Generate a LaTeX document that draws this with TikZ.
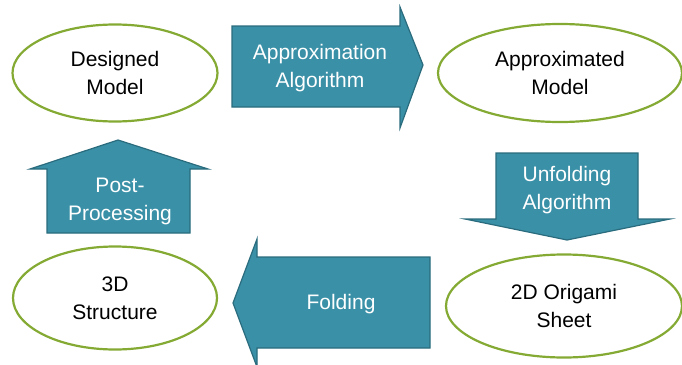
\documentclass[tikz,border=0pt]{standalone}
\usepackage{fontspec}
\setmainfont{Liberation Sans}
\usetikzlibrary{shapes.geometric}
\definecolor{teal1}{RGB}{58,144,167}
\definecolor{teal2}{RGB}{42,108,126}
\definecolor{olive1}{RGB}{132,170,52}
\tikzset{
  oval/.style={ellipse, draw=olive1, line width=2.2pt, fill=white, inner sep=0pt, align=center, font=\fontsize{21}{28}\selectfont},
  arrowshape/.style={fill=teal1, draw=teal2, line width=1.2pt, line join=miter},
  arrowtext/.style={align=center, text=white, font=\fontsize{21}{28}\selectfont}
}
\begin{document}
\begin{tikzpicture}[x=1pt,y=-1pt]
\useasboundingbox (0,0) rectangle (682,364);
\begin{scope}
\clip (0,0) rectangle (682,364);
% ellipses
\node[oval, minimum width=205pt, minimum height=97pt] (dm) at (115,73) {Designed\\Model};
\node[oval, minimum width=244pt, minimum height=98pt] (am) at (560,73) {Approximated\\Model};
\node[oval, minimum width=204pt, minimum height=103pt] (sd) at (115,298) {3D\\Structure};
\node[oval, minimum width=236pt, minimum height=103pt] (os) at (564,306) {2D Origami\\Sheet};
% approximation arrow (right)
\draw[arrowshape] (232,26) -- (400,26) -- (400,7) -- (423,65) -- (400,128) -- (400,107) -- (232,107) -- cycle;
% unfolding arrow (down)
\draw[arrowshape] (496,153) -- (638,153) -- (638,219) -- (670,219) -- (567,240) -- (465,219) -- (496,219) -- cycle;
% folding arrow (left)
\draw[arrowshape] (430,257) -- (430,348) -- (257,348) -- (257,367) -- (233,303) -- (257,239) -- (257,257) -- cycle;
% post-processing arrow (up)
\draw[arrowshape] (47,233) -- (47,169) -- (30,169) -- (118,140) -- (208,169) -- (190,169) -- (190,233) -- cycle;
\end{scope}
\node[arrowtext] (aa) at (320,68) {Approximation\\Algorithm};
\node[arrowtext] (ua) at (567,190) {Unfolding\\Algorithm};
\node[arrowtext] (fo) at (341,304) {Folding};
\node[arrowtext] (pp) at (120,201) {Post-\\Processing};
\end{tikzpicture}
\end{document}
